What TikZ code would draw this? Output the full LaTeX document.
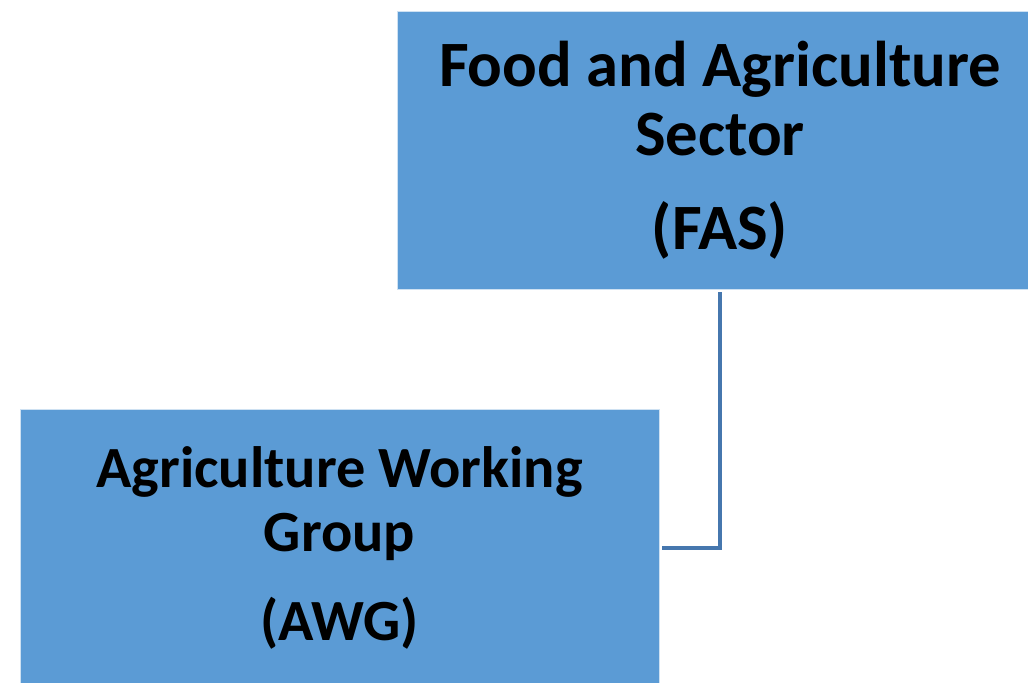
\documentclass[tikz,border=0pt]{standalone}
\usepackage{fontspec}
\setmainfont{Carlito}
\usepackage{xcolor}
\usepackage{tikz}
\usetikzlibrary{positioning}

\definecolor{boxblue}{HTML}{5B9BD5}
\definecolor{lineblue}{HTML}{4677AE}

\begin{document}
\begin{tikzpicture}[semithick, inner sep=0pt]

\tikzstyle{unit}=[rectangle, fill=boxblue, draw=white!70!boxblue, line width=0.4pt, minimum height=6.95cm, align=center, font=\bfseries]
\tikzstyle{link}=[draw=lineblue, line width=2.4pt]

\useasboundingbox (0,0) rectangle (25.7,17.05);

\node[unit, minimum width=16.15cm, font=\fontsize{46}{49.6}\selectfont\bfseries] (fas) at (18,13.3) {Food and Agriculture\\Sector\\[17pt](FAS)};
\node[unit, minimum width=15.975cm, font=\fontsize{41.5}{45.4}\selectfont\bfseries] (awg) at (8.4875,3.35) {Agriculture Working\\Group\\[18pt](AWG)};

\draw[link] ([yshift=-0.075cm]fas.south) |- ([xshift=0.075cm]awg.east);

\end{tikzpicture}
\end{document}
